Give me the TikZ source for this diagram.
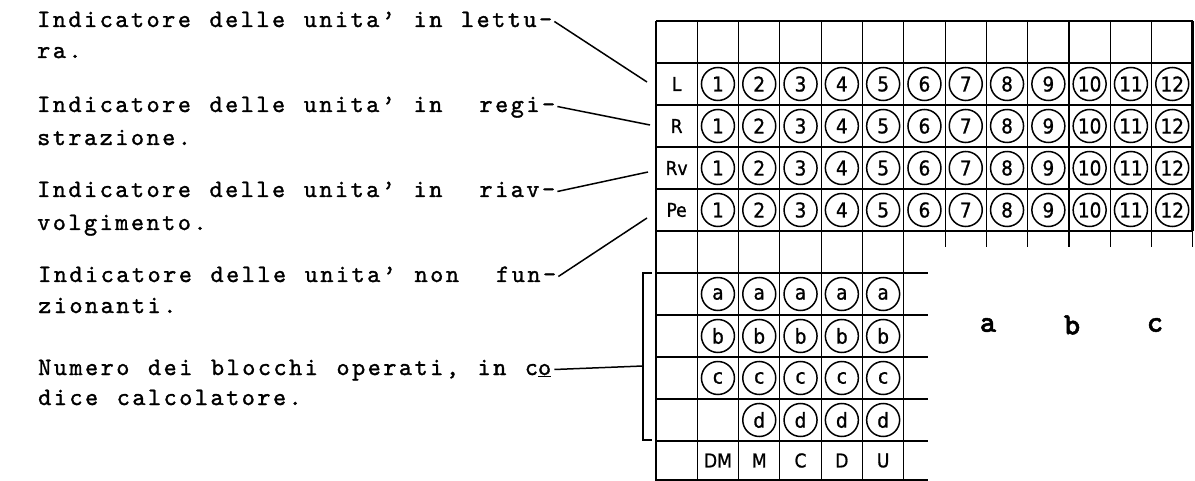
\documentclass[tikz,border=0pt]{standalone}
\usepackage{fontspec}
\newfontfamily\twfont{lmmono10-regular.otf}[LetterSpace=10,WordSpace=1.19,FakeBold=1.3]
\newfontfamily\abcfont{lmmonolt10-bold.otf}[FakeBold=1.5]
\newfontfamily\dinfont{DejaVu Sans Condensed}[FakeBold=1]
\begin{document}
\begin{tikzpicture}[x=1pt,y=-1pt,
  txt/.style={anchor=base west, inner sep=0pt, text height=15pt, text depth=4pt,
    font={\twfont\fontsize{25}{29}\selectfont}},
  circ/.style={circle, draw, line width=1.5pt, minimum size=33pt, inner sep=0pt,
    font={\dinfont\fontsize{20.5}{24}\selectfont}},
  lbl/.style={inner sep=0pt, font={\dinfont\fontsize{19}{22}\selectfont}},
  abc/.style={inner sep=0pt, font={\abcfont\fontsize{31}{35}\selectfont}},
  thin/.style={line width=1.1pt},
  thick/.style={line width=2.4pt},
  lead/.style={line width=1.5pt}]
\useasboundingbox (0,0) rectangle (1195,481);
% ---- grid ----
\draw[thick] (656,21) -- (1193,21);
\draw[thick] (656,21) -- (656,481);
\draw[thick] (1192.5,21) -- (1192.5,231);
\foreach \r in {63,105,147,189,231} \draw[thin] (656,\r) -- (1193,\r);
\foreach \r in {273,315,357,399,441,480} \draw[thin] (656,\r) -- (928,\r);
\foreach \j in {1,...,6} {
  \pgfmathsetmacro\xx{656+41.3*\j}
  \draw[thin] (\xx,21) -- (\xx,481);
}
\foreach \j in {7,...,12} {
  \pgfmathsetmacro\xx{656+41.3*\j}
  \draw[thin] (\xx,21) -- (\xx,247);
}
\draw[thin] (1192.5,231) -- (1192.5,247);
% ---- row labels ----
\node[lbl] (lL) at (676.6,84) {L};
\node[lbl] (lR) at (676.6,126) {R};
\node[lbl] (lRv) at (676.6,168) {Rv};
\node[lbl] (lPe) at (676.6,210) {Pe};
% ---- upper circles ----
\foreach \r/\yy in {1/84,2/126,3/168,4/210} {
  \foreach \j in {1,...,12} {
    \pgfmathsetmacro\xx{656+41.3*(\j+0.5)}
    \node[circ] (u\r-\j) at (\xx,\yy) {\j};
  }
}
% ---- lower circles ----
\foreach \L/\yy in {a/294,b/336,c/378} {
  \foreach \j in {1,...,5} {
    \pgfmathsetmacro\xx{656+41.3*(\j+0.5)}
    \node[circ] (\L-\j) at (\xx,\yy) {\L};
  }
}
\foreach \j in {2,...,5} {
  \pgfmathsetmacro\xx{656+41.3*(\j+0.5)}
  \node[circ] (d-\j) at (\xx,420) {d};
}
% ---- column labels ----
\foreach \j/\t in {1/DM,2/M,3/C,4/D,5/U} {
  \pgfmathsetmacro\xx{656+41.3*(\j+0.5)}
  \node[lbl] (col\j) at (\xx,460.5) {\t};
}
% ---- a b c ----
\node[abc] (ka) at (988,325) {a};
\node[abc] (kb) at (1072,325) {b};
\node[abc] (kc) at (1155,325) {c};
% ---- texts ----
\node[txt] (t1) at (37,27) {Indicatore delle unita’ in lettu-};
\node[txt] (t1b) at (37,58) {ra.};
\node[txt] (t2) at (37,112) {Indicatore delle unita’ in\ \ regi-};
\node[txt] (t2b) at (37,145) {strazione.};
\node[txt] (t3) at (37,197) {Indicatore delle unita’ in\ \ riav-};
\node[txt] (t3b) at (37,230) {volgimento.};
\node[txt] (t4) at (38,282) {Indicatore delle unita’ non\ \ fun-};
\node[txt] (t4b) at (38,313) {zionanti.};
\node[txt] (t5) at (38,375) {Numero dei blocchi operati, in c\underline{o}};
\node[txt] (t5b) at (38,405) {dice calcolatore.};
% ---- leaders ----
\coordinate (pL) at (647,82);
\coordinate (pR) at (650,125);
\coordinate (pRv) at (648,172);
\coordinate (pPe) at (647,218);
\coordinate (brT) at (652,273);
\coordinate (brB) at (652,440);
\coordinate (brM) at (643,366);
\draw[lead] ([xshift=2pt]t1.east) -- (pL);
\draw[lead] ([xshift=2pt]t2.east) -- (pR);
\draw[lead] ([xshift=2pt]t3.east) -- (pRv);
\draw[lead] ([xshift=2pt]t4.east) -- (pPe);
\draw[lead] ([xshift=3pt]t5.east) -- (brM);
\draw[lead] (brT) -- (643,273) -- (643,440) -- (brB);
\end{tikzpicture}
\end{document}
